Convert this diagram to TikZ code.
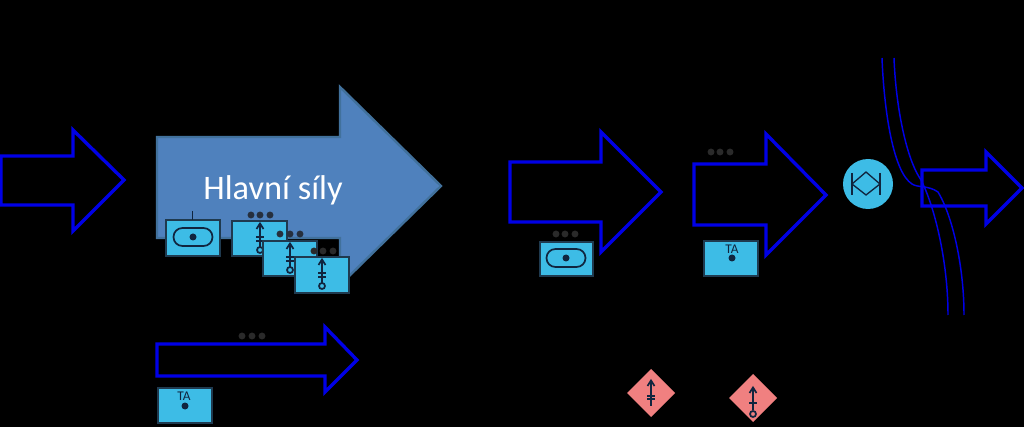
\documentclass[tikz,border=0pt]{standalone}
\usepackage{fontspec}
\setmainfont{Carlito}
\definecolor{bigfill}{HTML}{4F81BD}
\definecolor{bigedge}{HTML}{41719C}
\definecolor{iconfill}{HTML}{3DBCE6}
\definecolor{iconedge}{HTML}{1F3A4F}
\definecolor{glyphc}{HTML}{10253F}
\definecolor{dotc}{HTML}{2A2A2A}
\definecolor{dotbright}{HTML}{262F3D}
\definecolor{diamfill}{HTML}{F08080}
\definecolor{arrowblue}{HTML}{0000E6}
\tikzset{
  x=0.75pt,y=-0.75pt,
  outlinearrow/.style={draw=arrowblue,line width=2.5pt,fill=black,line join=miter},
  bigarrow/.style={draw=bigedge,line width=1.8pt,fill=bigfill,line join=miter},
  iconbox/.style={draw=iconedge,line width=1.2pt,fill=iconfill},
  glyph/.style={draw=glyphc,line width=1.3pt},
  dotb/.style={circle,fill=dotc,inner sep=0pt,minimum size=5.2pt,draw=none},
  dota/.style={circle,fill=dotbright,inner sep=0pt,minimum size=5.2pt,draw=none},
  road/.style={draw=arrowblue,line width=1.1pt},
}
\newcommand{\pilla}[2]{%
  \draw[glyph,rounded corners=6.7pt] (#1-19.5,#2-9) rectangle (#1+19.5,#2+9);
  \fill[glyphc] (#1,#2) circle[radius=3.5];}
\newcommand{\stemsym}[2]{%
  \draw[glyph] (#1,#2+3) -- (#1,#2+26);
  \draw[glyph] (#1-3.5,#2+8) -- (#1,#2+2.5) -- (#1+3.5,#2+8);
  \draw[glyph] (#1-4,#2+16) -- (#1+4,#2+16);
  \draw[glyph] (#1-4,#2+20) -- (#1+4,#2+20);
  \draw[glyph,fill=none] (#1,#2+29) circle[radius=3];}
\begin{document}
\begin{tikzpicture}
\fill[black] (0,0) rectangle (1024,427);
\useasboundingbox (0,0) rectangle (1024,427);
% big arrow
\draw[bigarrow] (157,137) -- (340,137) -- (340,87) -- (441,186) -- (340,285) -- (340,238) -- (157,238) -- cycle;
\node[text=white,font=\fontsize{25.8}{28}\selectfont,anchor=center] (hl) at (273,190) {Hlavní síly};
% outline arrows
\draw[outlinearrow] (1,156) -- (73,156) -- (73,130) -- (124,180) -- (73,231) -- (73,205) -- (1,205) -- cycle;
\draw[outlinearrow] (510,162) -- (601,162) -- (601,132) -- (661,192) -- (601,252) -- (601,222) -- (510,222) -- cycle;
\draw[outlinearrow] (694,164) -- (766,164) -- (766,134) -- (826,195) -- (766,255) -- (766,225) -- (694,225) -- cycle;
\draw[outlinearrow] (157,344) -- (325,344) -- (325,327) -- (357,360) -- (325,392) -- (325,376) -- (157,376) -- cycle;
% roads
\draw[road] (882,58) .. controls (884,110) and (893,172) .. (912,184) .. controls (918,188) and (928,185) .. (938,192) .. controls (952,215) and (964,265) .. (964,315);
\draw[road] (894,58) .. controls (896,110) and (907,160) .. (921,180) .. controls (934,205) and (948,260) .. (948,315);
\draw[outlinearrow,fill=none] (922,170) -- (986,170) -- (986,152) -- (1022,188) -- (986,224) -- (986,206) -- (922,206) -- cycle;
% circle
\fill[iconfill] (868,184) circle[radius=25];
\draw[glyphc,line width=1pt] (852,173) -- (852,195) (880,173) -- (880,195);
\draw[glyphc,line width=1pt] (852,184) -- (866,172) -- (880,184) -- (866,195) -- cycle;
% big group
\draw[iconbox] (166,220) rectangle (220,256);
\draw[glyph] (192.5,211) -- (192.5,220);
\pilla{193}{237}
\foreach \x in {251,260,270} \node[dota] at (\x,215) {};
\draw[iconbox] (232,221) rectangle (287,256);
\stemsym{260}{221}
\foreach \x in {280,290,300} \node[dota] at (\x,234) {};
\draw[iconbox] (263,241) rectangle (317,276);
\stemsym{290}{241}
\foreach \x in {314,323,333} \node[dotb] at (\x,251) {};
\draw[iconbox] (295,257) rectangle (349,293);
\stemsym{322}{257}
% mid
\draw[iconbox] (540,242) rectangle (593,276);
\pilla{566}{258}
\foreach \x in {556,565,575} \node[dotb] at (\x,234) {};
\draw[iconbox] (704,241) rectangle (758,276);
\node[text=glyphc,font=\fontsize{10}{11}\selectfont] (ta1) at (732,249) {TA};
\fill[glyphc] (732,258) circle[radius=3.5];
\foreach \x in {711,720,730} \node[dotb] at (\x,152) {};
% lower
\draw[iconbox] (158,388) rectangle (212,423);
\node[text=glyphc,font=\fontsize{10}{11}\selectfont] (ta2) at (184,396) {TA};
\fill[glyphc] (185,406) circle[radius=3.5];
\foreach \x in {242,252,262} \node[dotb] at (\x,336) {};
% diamonds
\fill[diamfill] (651,369) -- (675,393) -- (651,417) -- (627,393) -- cycle;
\draw[glyph] (651,381) -- (651,406);
\draw[glyph] (647.5,386) -- (651,380.5) -- (654.5,386);
\draw[glyph] (647,396) -- (655,396) (647,399) -- (655,399);
\fill[diamfill] (753,374) -- (777,398) -- (753,422) -- (729,398) -- cycle;
\draw[glyph] (753,389) -- (753,410);
\draw[glyph] (749.5,393) -- (753,387.5) -- (756.5,393);
\draw[glyph] (749,403) -- (757,403);
\draw[glyph] (753,414) circle[radius=3];
\end{tikzpicture}
\end{document}
